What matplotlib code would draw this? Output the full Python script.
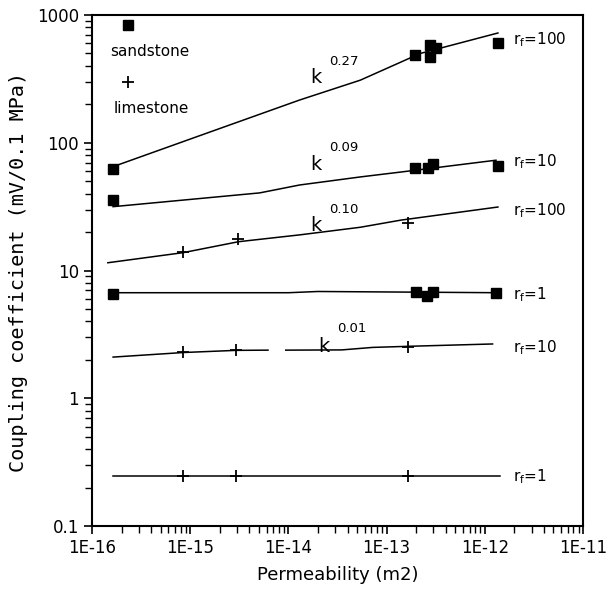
import matplotlib
matplotlib.use("Agg")
import matplotlib.pyplot as plt
import numpy as np
from matplotlib.ticker import LogLocator, NullFormatter, FixedFormatter, FixedLocator

# ---------------- data ----------------
sand_rf100_k = [1.64e-16, 1.95e-13, 2.75e-13, 2.75e-13, 3.2e-13, 1.36e-12]
sand_rf100_c = [62, 486, 582, 468, 552, 603]
sand_rf10_k = [1.64e-16, 1.95e-13, 2.64e-13, 3.0e-13, 1.36e-12]
sand_rf10_c = [35.6, 63, 63, 68, 66]
sand_rf1_k = [1.64e-16, 2.0e-13, 2.6e-13, 3.0e-13, 1.3e-12]
sand_rf1_c = [6.55, 6.8, 6.3, 6.8, 6.7]
lime_rf100_k = [8.5e-16, 3.1e-15, 1.66e-13]
lime_rf100_c = [14, 17.7, 23.5]
lime_rf10_k = [8.5e-16, 2.9e-15, 1.66e-13]
lime_rf10_c = [2.3, 2.39, 2.52]
lime_rf1_k = [8.5e-16, 2.9e-15, 1.66e-13]
lime_rf1_c = [0.245, 0.245, 0.245]

# fitted curves (vertices)
fit_sand100_k = [1.64e-16, 1.48e-15, 1.3e-14, 5.4e-14, 2.2e-13, 1.36e-12]
fit_sand100_c = [65, 119, 216, 309, 500, 723]
fit_sand10_k = [1.64e-16, 5.1e-15, 1.3e-14, 5.4e-14, 1.4e-13, 1.3e-12]
fit_sand10_c = [31.6, 40.5, 46.7, 54, 59, 73]
fit_lime100_k = [1.45e-16, 8.5e-16, 3.1e-15, 1.3e-14, 5.4e-14, 1.4e-13, 1.36e-12]
fit_lime100_c = [11.5, 13.8, 16.8, 19, 21.8, 24.8, 31.4]
fit_sand1_k = [1.64e-16, 1e-14, 2e-14, 1.36e-12]
fit_sand1_c = [6.7, 6.7, 6.85, 6.7]
fit_lime10a_k = [1.64e-16, 8.5e-16, 2.9e-15, 6.2e-15]
fit_lime10a_c = [2.1, 2.28, 2.37, 2.38]
fit_lime10b_k = [9.4e-15, 3.5e-14, 7.2e-14, 1.66e-13, 1.2e-12]
fit_lime10b_c = [2.38, 2.39, 2.5, 2.55, 2.66]
fit_lime1_k = [1.64e-16, 1.43e-12]
fit_lime1_c = [0.245, 0.245]

x_ticks = [1e-16, 1e-15, 1e-14, 1e-13, 1e-12, 1e-11]
x_ticklabels = ["1E-16", "1E-15", "1E-14", "1E-13", "1E-12", "1E-11"]
y_ticks = [0.1, 1, 10, 100, 1000]
y_ticklabels = ["0.1", "1", "10", "100", "1000"]

curve_labels = [
    (1.95e-12, 637, r"r$_{\rm f}$=100"),
    (1.95e-12, 71, r"r$_{\rm f}$=10"),
    (1.95e-12, 29.5, r"r$_{\rm f}$=100"),
    (1.95e-12, 6.5, r"r$_{\rm f}$=1"),
    (1.95e-12, 2.5, r"r$_{\rm f}$=10"),
    (1.95e-12, 0.245, r"r$_{\rm f}$=1"),
]
exp_labels = [
    (1.66e-14, 327, 429, "0.27"),
    (1.66e-14, 68, 91, "0.09"),
    (1.66e-14, 22.5, 30, "0.10"),
    (2.0e-14, 2.55, 3.5, "0.01"),
]

# ---------------- figure ----------------
fig = plt.figure(figsize=(6.08, 5.94), dpi=100)
ax = fig.add_axes([92/608, 1-526/594, (583-92)/608, (526-15)/594])
ax.set_xscale("log")
ax.set_yscale("log")
ax.set_xlim(1e-16, 1e-11)
ax.set_ylim(0.1, 1000)

lc = "black"
for kx, cy in [(fit_sand100_k, fit_sand100_c), (fit_sand10_k, fit_sand10_c),
               (fit_lime100_k, fit_lime100_c), (fit_sand1_k, fit_sand1_c),
               (fit_lime10a_k, fit_lime10a_c), (fit_lime10b_k, fit_lime10b_c),
               (fit_lime1_k, fit_lime1_c)]:
    ax.plot(kx, cy, color=lc, lw=1.1)

sq = dict(marker="s", ms=7.5, color="black", ls="none")
pl = dict(marker="+", ms=9, mew=1.3, color="black", ls="none")
ax.plot(sand_rf100_k, sand_rf100_c, **sq)
ax.plot(sand_rf10_k, sand_rf10_c, **sq)
ax.plot(sand_rf1_k, sand_rf1_c, **sq)
ax.plot(lime_rf100_k, lime_rf100_c, **pl)
ax.plot(lime_rf10_k, lime_rf10_c, **pl)
ax.plot(lime_rf1_k, lime_rf1_c, **pl)

# legend inside
ax.plot([0.073], [0.980], transform=ax.transAxes, clip_on=False, **sq)
ax.plot([0.073], [0.869], transform=ax.transAxes, clip_on=False, **pl)
ax.text(0.118, 0.928, "sandstone", transform=ax.transAxes, ha="center", va="center", fontsize=11)
ax.text(0.120, 0.818, "limestone", transform=ax.transAxes, ha="center", va="center", fontsize=11)

for x, y, t in curve_labels:
    ax.text(x, y, t, ha="left", va="center", fontsize=11, clip_on=False)
for x, yk, ys, t in exp_labels:
    ax.text(x, yk, "k", ha="left", va="center", fontsize=14)
    ax.text(x * 1.55, ys, t, ha="left", va="center", fontsize=9.5)

ax.xaxis.set_major_locator(FixedLocator(x_ticks))
ax.xaxis.set_major_formatter(FixedFormatter(x_ticklabels))
ax.yaxis.set_major_locator(FixedLocator(y_ticks))
ax.yaxis.set_major_formatter(FixedFormatter(y_ticklabels))
ax.xaxis.set_minor_locator(LogLocator(base=10, subs=np.arange(2, 10), numticks=20))
ax.yaxis.set_minor_locator(LogLocator(base=10, subs=np.arange(2, 10), numticks=20))
ax.xaxis.set_minor_formatter(NullFormatter())
ax.yaxis.set_minor_formatter(NullFormatter())
ax.tick_params(which="major", direction="out", length=6, width=1.2, labelsize=12)
ax.tick_params(which="minor", direction="out", length=5, width=1.0)
for s in ax.spines.values():
    s.set_linewidth(1.5)

ax.set_xlabel("Permeability (m2)", fontsize=13, labelpad=6)
ax.set_ylabel("Coupling coefficient (mV/0.1 MPa)", fontsize=14.5,
              family="DejaVu Sans Mono")
ax.yaxis.set_label_coords(-0.130, 0.497)

fig.savefig("out.png", dpi=100)
